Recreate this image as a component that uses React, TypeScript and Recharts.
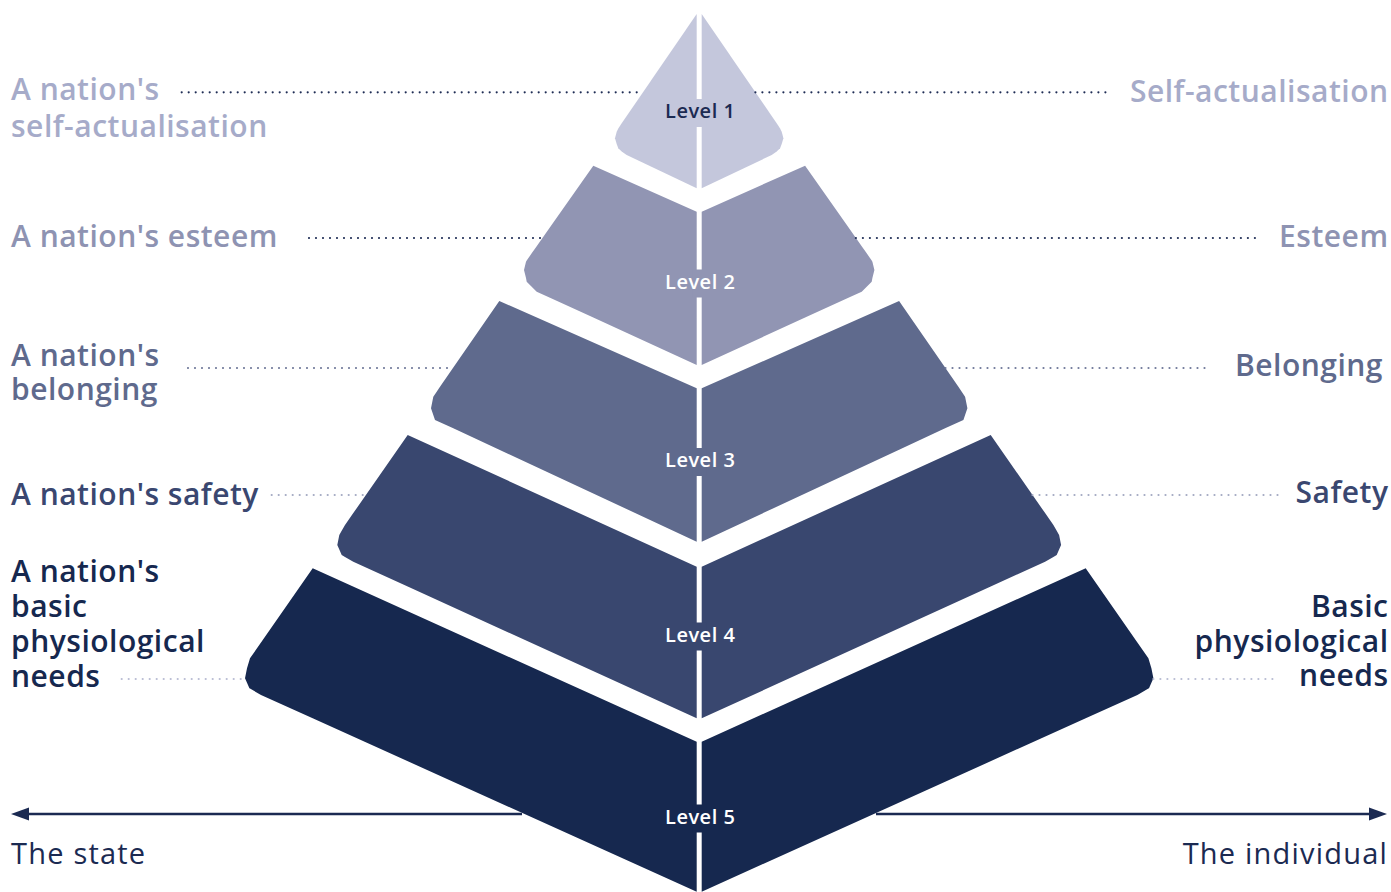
import React from 'react';
import { ComposedChart, Area, Scatter, XAxis, YAxis, ReferenceLine } from 'recharts';

const W = 1391;
const H = 892;
const CENTER = 699.2;
const FONT = "'Open Sans', 'Noto Sans', sans-serif";

// ---- data ----
const levelNames = ['Level 1', 'Level 2', 'Level 3', 'Level 4', 'Level 5'];
const levelColors = ['#c4c7dc', '#9195b3', '#5f6a8d', '#39476f', '#16284f'];
const levelTextColors = ['#1b2a52', '#ffffff', '#ffffff', '#ffffff', '#ffffff'];
const levelLabelY = [111, 281.5, 460, 634.5, 816.5];

// outline of the left half of each level: [offset from centre, top edge, bottom edge]
const level1Outline = [[84.2, 138.3, 138.3], [82.5, 131.7, 144], [80.9, 128.5, 148.3], [77.5, 123.3, 151.5], [72.5, 116, 155], [2.5, 14, 188.3]];
const level2Outline = [[175.2, 270, 270], [173.2, 261.7, 278], [172.5, 260.5, 281.7], [167.5, 253.3, 286.7], [162.5, 246.2, 291.7], [149.2, 227.3, 297.7], [105.9, 165.7, 317.6], [2.5, 211.7, 365]];
const level3Outline = [[268.2, 408.3, 408.3], [265.9, 396.7, 415], [264.2, 394.2, 420], [259.2, 386.7, 422.3], [245.9, 367.5, 428.3], [199.9, 301, 449.7], [2.5, 388.3, 541.7]];
const level4Outline = [[361.9, 545, 545], [359.9, 535, 549.5], [357.5, 530.8, 555], [354.2, 525, 556.9], [345.9, 513.1, 561.7], [291.5, 435, 586.5], [2.5, 566.7, 718.3]];
const level5Outline = [[454.2, 678.3, 678.3], [452.2, 668.3, 682.8], [449.8, 660.3, 688.3], [449.2, 658.3, 688.6], [438.2, 642.5, 695], [386.5, 568.3, 718.3], [2.5, 741.7, 891.7]];
const outlines = [level1Outline, level2Outline, level3Outline, level4Outline, level5Outline];

const leftLabels = [["A nation's", 'self-actualisation'], ["A nation's esteem"], ["A nation's", 'belonging'], ["A nation's safety"], ["A nation's", 'basic', 'physiological', 'needs']];
const rightLabels = [['Self-actualisation'], ['Esteem'], ['Belonging'], ['Safety'], ['Basic', 'physiological', 'needs']];
const labelColors = ['#a6abc9', '#8e93b2', '#5f6a8d', '#3a4770', '#16284f'];

// layout
const leftLabelY = [100, 247, 366, 505, 582];
const leftLabelGap = [37, 0, 34, 0, 35];
const rightLabelX = [1388.5, 1388.5, 1383, 1388.5, 1388.5];
const rightLabelY = [102, 247, 376, 503, 617];
const rightLabelGap = [0, 0, 0, 0, 34.5];

// dotted leader lines: y, left start, left end (pyramid edge), right start, right end
const leaderY = [92.3, 238, 368, 495, 679];
const leaderLeft = [[181.7, 643], [309, 542.5], [188, 452.9], [271.7, 365.9], [121.7, 245]];
const leaderRight = [[755.4, 1106], [855.9, 1260], [945.5, 1205], [1032.5, 1280], [1153.4, 1277]];
const leaderColors = ['#1f2d55', '#1f2d55', '#6f7899', '#a3a9c2', '#b8bcd3'];

const axisY = 814;
const axisEnds = [11, 1387];
const axisTitles = ['The state', 'The individual'];

// ---- build series ----
function halves(outline: number[][]) {
  const left = outline.map(([d, t, b]) => ({ x: CENTER - d, range: [t, b] }));
  const right = outline
    .slice()
    .reverse()
    .map(([d, t, b]) => ({ x: CENTER + d, range: [t, b] }));
  return [left, right];
}

const labelRows = [
  ...leftLabels.map((lines, i) => ({ x: 11, y: leftLabelY[i], lines, gap: leftLabelGap[i], anchor: 'start', color: labelColors[i] })),
  ...rightLabels.map((lines, i) => ({ x: rightLabelX[i], y: rightLabelY[i], lines, gap: rightLabelGap[i], anchor: 'end', color: labelColors[i] })),
];

const levelRows = levelNames.map((name, i) => ({ x: CENTER, y: levelLabelY[i], name, color: levelColors[i], text: levelTextColors[i] }));

const arrowRows = [
  { x: axisEnds[0], y: axisY, dir: -1 },
  { x: axisEnds[1], y: axisY, dir: 1 },
];
const axisTitleRows = [
  { x: axisEnds[0], y: 863.5, name: axisTitles[0], anchor: 'start' },
  { x: axisEnds[1] + 1, y: 863.5, name: axisTitles[1], anchor: 'end' },
];

const LabelShape = (props: any) => {
  const { cx, cy, payload } = props;
  return (
    <text x={cx} y={cy} textAnchor={payload.anchor} fill={payload.color} fontFamily={FONT} fontSize={30} fontWeight={600} letterSpacing={0.5}>
      {payload.lines.map((l: string, i: number) => (
        <tspan key={i} x={cx} dy={i === 0 ? 0 : payload.gap}>
          {l}
        </tspan>
      ))}
    </text>
  );
};

const LevelShape = (props: any) => {
  const { cx, cy, payload } = props;
  return (
    <g>
      <rect x={cx - 7} y={cy - 12} width={14} height={28} fill={payload.color} />
      <text x={cx + 1} y={cy + 7} textAnchor="middle" fill={payload.text} fontFamily={FONT} fontSize={20} fontWeight={600} letterSpacing={0.5}>
        {payload.name}
      </text>
    </g>
  );
};

const ArrowShape = (props: any) => {
  const { cx, cy, payload } = props;
  const d = payload.dir;
  const pts = `${cx},${cy} ${cx - d * 18},${cy - 6.5} ${cx - d * 18},${cy + 6.5}`;
  return <polygon points={pts} fill="#1b2a52" />;
};

const AxisTitleShape = (props: any) => {
  const { cx, cy, payload } = props;
  return (
    <text x={cx} y={cy} textAnchor={payload.anchor} fill="#1b2a52" fontFamily={FONT} fontSize={29} fontWeight={500} letterSpacing={1.2}>
      {payload.name}
    </text>
  );
};

export default function App() {
  return (
    <div style={{ position: 'absolute', left: 0, top: 0, width: W, height: H, background: '#ffffff' }}>
      <ComposedChart width={W} height={H} margin={{ top: 0, right: 0, bottom: 0, left: 0 }}>
        <XAxis type="number" dataKey="x" domain={[0, W]} hide allowDataOverflow />
        <YAxis type="number" domain={[0, H]} reversed hide allowDataOverflow />

        {leaderY.map((y, i) => (
          <ReferenceLine
            key={`ll${i}`}
            segment={[{ x: leaderLeft[i][0], y }, { x: leaderLeft[i][1], y }]}
            stroke={leaderColors[i]}
            strokeWidth={2.2}
            strokeDasharray="0 7"
            strokeLinecap="round"
          />
        ))}
        {leaderY.map((y, i) => (
          <ReferenceLine
            key={`lr${i}`}
            segment={[{ x: leaderRight[i][0], y }, { x: leaderRight[i][1], y }]}
            stroke={leaderColors[i]}
            strokeWidth={2.2}
            strokeDasharray="0 7"
            strokeLinecap="round"
          />
        ))}

        <ReferenceLine segment={[{ x: axisEnds[0] + 10, y: axisY }, { x: 522, y: axisY }]} stroke="#1b2a52" strokeWidth={2.6} />
        <ReferenceLine segment={[{ x: 876, y: axisY }, { x: axisEnds[1] - 10, y: axisY }]} stroke="#1b2a52" strokeWidth={2.6} />

        {outlines.map((o, i) => {
          const [left, right] = halves(o);
          return [
            <Area key={`a${i}l`} data={left} dataKey="range" type="linear" fill={levelColors[i]} fillOpacity={1} stroke="none" dot={false} activeDot={false} isAnimationActive={false} />,
            <Area key={`a${i}r`} data={right} dataKey="range" type="linear" fill={levelColors[i]} fillOpacity={1} stroke="none" dot={false} activeDot={false} isAnimationActive={false} />,
          ];
        })}

        <Scatter data={arrowRows} dataKey="y" shape={ArrowShape} isAnimationActive={false} />
        <Scatter data={levelRows} dataKey="y" shape={LevelShape} isAnimationActive={false} />
        <Scatter data={labelRows} dataKey="y" shape={LabelShape} isAnimationActive={false} />
        <Scatter data={axisTitleRows} dataKey="y" shape={AxisTitleShape} isAnimationActive={false} />
      </ComposedChart>
    </div>
  );
}
